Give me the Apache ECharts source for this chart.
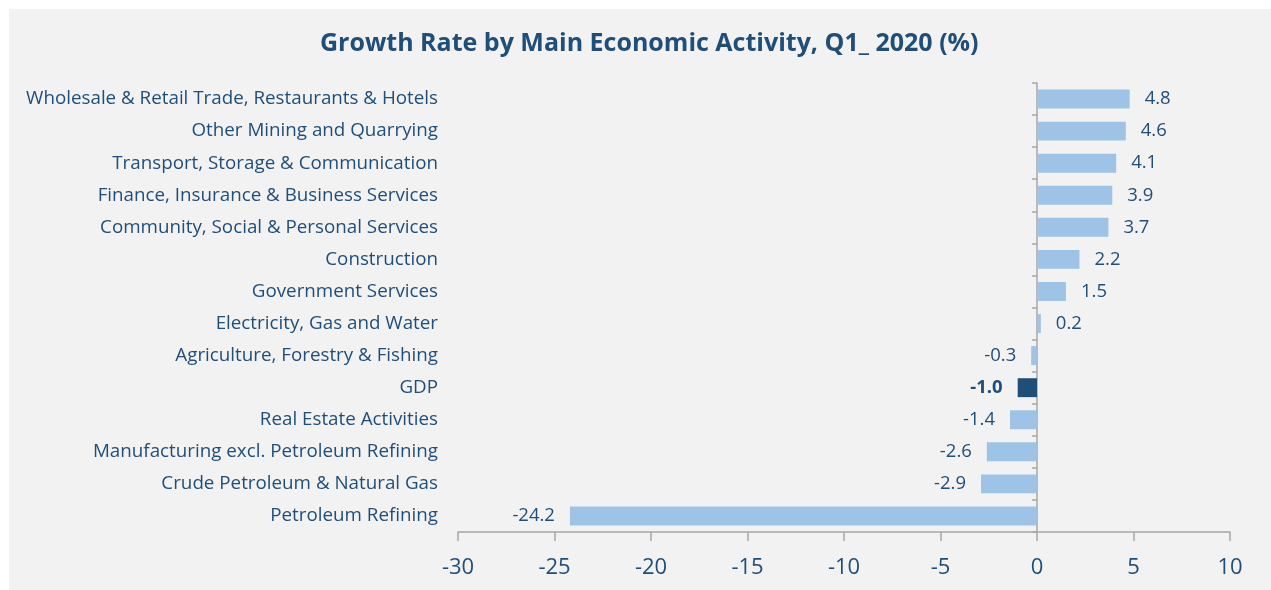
<!DOCTYPE html>
<html>
<head>
<meta charset="utf-8">
<script src="https://cdn.jsdelivr.net/npm/echarts@6/dist/echarts.min.js"></script>
<style>
  html, body { margin: 0; padding: 0; background: #fff; }
  #chart { width: 1271px; height: 590px; }
</style>
</head>
<body>
<div id="chart"></div>
<script>
// 各行业增长率（从上到下）
const categories = [
  'Wholesale & Retail Trade, Restaurants & Hotels',
  'Other Mining and Quarrying',
  'Transport, Storage & Communication',
  'Finance, Insurance & Business Services',
  'Community, Social & Personal Services',
  'Construction',
  'Government Services',
  'Electricity, Gas and Water',
  'Agriculture, Forestry & Fishing',
  'GDP',
  'Real Estate Activities',
  'Manufacturing excl. Petroleum Refining',
  'Crude Petroleum & Natural Gas',
  'Petroleum Refining'
]
const values = [4.8, 4.6, 4.1, 3.9, 3.7, 2.2, 1.5, 0.2, -0.3, -1.0, -1.4, -2.6, -2.9, -24.2]
const highlight = 'GDP'

const textColor = '#1f4e79'
const font = '"Open Sans", sans-serif'

const seriesData = values.map((v, i) => {
  const isHi = categories[i] === highlight
  return {
    value: v,
    itemStyle: { color: isHi ? '#1f4e79' : '#9dc3e6' },
    label: {
      position: v >= 0 ? 'right' : 'left',
      fontWeight: isHi ? 'bold' : 'normal'
    }
  }
})

const myChart = echarts.init(document.getElementById('chart'))
const option = {
  animation: false,
  graphic: [{
    type: 'rect',
    silent: true,
    z: -10,
    shape: { x: 9, y: 9, width: 1271, height: 590 },
    style: { fill: '#f2f2f2' }
  }],
  title: {
    text: 'Growth Rate by Main Economic Activity, Q1_ 2020 (%)',
    left: 315,
    top: 26,
    textStyle: { color: textColor, fontSize: 25, fontWeight: 'bold', fontFamily: font }
  },
  grid: { left: 458, right: 41, top: 83, bottom: 58, containLabel: false, outerBoundsMode: 'none' },
  xAxis: {
    type: 'value',
    min: -30,
    max: 10,
    interval: 5,
    splitLine: { show: false },
    axisLine: { show: true, lineStyle: { color: '#a6a6a6', width: 1.5 } },
    axisTick: { show: true, length: 9, lineStyle: { color: '#a6a6a6', width: 1.5 } },
    axisLabel: { color: textColor, fontSize: 22, fontFamily: font, margin: 25 }
  },
  yAxis: {
    type: 'category',
    data: categories,
    inverse: true,
    axisLine: { onZero: true, lineStyle: { color: '#a6a6a6', width: 1.5 } },
    axisTick: { show: true, length: 5, lineStyle: { color: '#a6a6a6', width: 1.5 } },
    // 标签相对网格左边缘
    axisLabel: { color: textColor, fontSize: 18.8, fontFamily: font, margin: 20, align: 'right' }
  },
  series: [{
    type: 'bar',
    data: seriesData,
    barWidth: '59%',
    label: {
      show: true,
      distance: 15,
      color: textColor,
      fontSize: 18.5,
      fontFamily: font,
      formatter: p => p.value.toFixed(1)
    }
  }]
}
myChart.setOption(option)
window.addEventListener('resize', function () {
  myChart.resize()
})
</script>
</body>
</html>
